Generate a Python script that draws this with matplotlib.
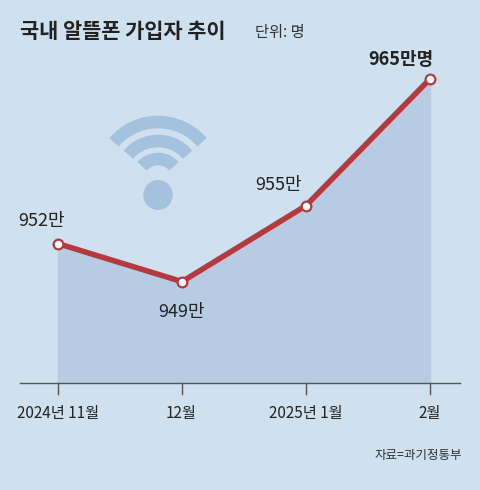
import matplotlib
matplotlib.use("Agg")
import matplotlib.pyplot as plt
from matplotlib.patches import Arc, Circle

plt.rcParams['font.family'] = ['Noto Sans CJK KR', 'DejaVu Sans']

months = ["2024년 11월", "12월", "2025년 1월", "2월"]
subs = [952, 949, 955, 965]          # 만명
labels = ["952만", "949만", "955만", "965만명"]

BG = "#cfe0ee"
RED = "#b53a40"
FILL = "#b7cce3"
ICON = "#a4c1dd"

fig = plt.figure(figsize=(4.8, 4.9), dpi=100, facecolor=BG)
ax = fig.add_axes([0, 1 - 383 / 490, 1, 343 / 490])
ax.set_facecolor(BG)
x = list(range(len(subs)))
ax.set_xlim(-58 / 124, 3 + 50 / 124)
ax.set_ylim(941, 941 + 343 / 12.67)
for s in ax.spines.values():
    s.set_visible(False)
ax.set_xticks([]); ax.set_yticks([])

ax.fill_between(x, subs, 941, color=FILL, zorder=1)
ax.plot(x, subs, color=RED, lw=4, zorder=3)
ax.plot(x, subs, "o", ms=7, mfc="white", mec=RED, mew=1.6, zorder=4)

# baseline & ticks
ax.plot([-38 / 124, 3 + 30 / 124], [941, 941], color="#555555", lw=1, clip_on=False)
for xi in x:
    ax.plot([xi, xi], [941, 941 - 0.9], color="#555555", lw=1, clip_on=False)

# value labels
offs = [(-0.13, 1.8, "center"), (0, -2.4, "center"), (-0.03, 1.6, "right"), (0.03, 1.5, "right")]
for xi, v, lab, (dx, dy, ha) in zip(x, subs, labels, offs):
    ax.text(xi + dx, v + dy, lab, fontsize=13, ha=ha, va="center", color="#222222",
            fontweight="bold" if xi == 3 else "normal")

# wifi icon
cx, cy = 158 / 480, 1 - 180 / 490
for rad in [58, 39, 21]:
    w = 2 * rad / 480
    h = 2 * rad / 490
    fig.patches.append(Arc((cx, cy), w, h, theta1=40, theta2=140,
                           transform=fig.transFigure, color=ICON, lw=9))
fig.patches.append(Circle((cx, 1 - 195 / 490), 14 / 480, transform=fig.transFigure, color=ICON))

fig.text(20 / 480, 1 - 32 / 490, "국내 알뜰폰 가입자 추이", fontsize=15, fontweight="bold",
         va="center", color="#222222")
fig.text(255 / 480, 1 - 33 / 490, "단위: 명", fontsize=11, va="center", color="#333333")

xpix = [58, 181, 306, 430]
for px, m in zip(xpix, months):
    fig.text(px / 480, 1 - 413 / 490, m, fontsize=11, ha="center", va="center", color="#222222")
fig.text(462 / 480, 1 - 455 / 490, "자료=과기정통부", fontsize=9, ha="right", va="center",
         color="#333333")

fig.savefig("out.png", dpi=100, facecolor=BG)
